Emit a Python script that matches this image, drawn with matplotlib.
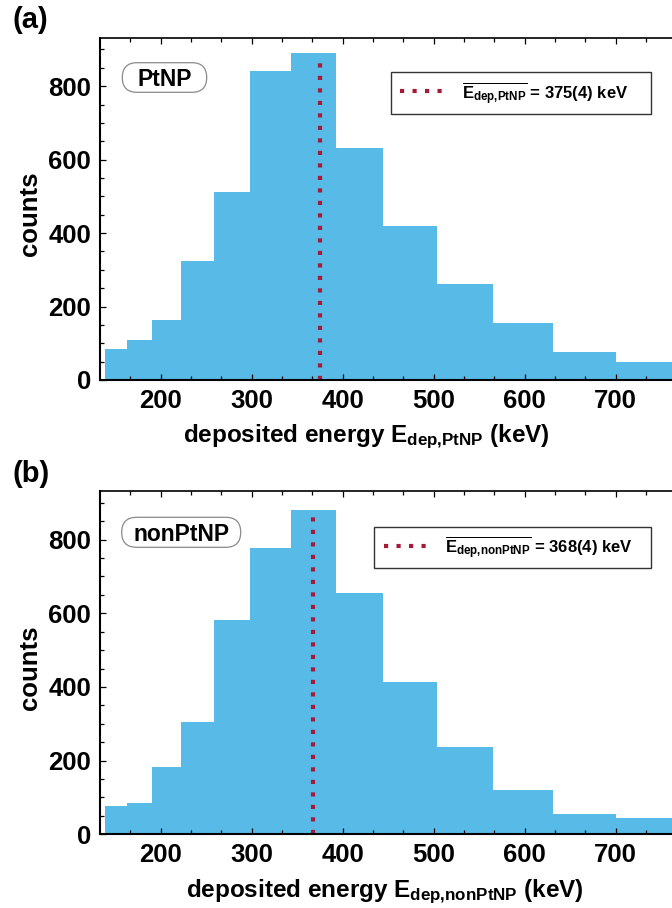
import numpy as np
import matplotlib
matplotlib.use("Agg")
import matplotlib.pyplot as plt
from matplotlib.ticker import MultipleLocator
from matplotlib.patches import Rectangle, FancyBboxPatch
from matplotlib.lines import Line2D
from matplotlib.transforms import IdentityTransform

# --- values ---
edges = [139, 163, 191, 222, 259, 298, 343, 393, 445, 504, 565, 631, 701, 776]
counts_pt = [85, 109, 164, 323, 513, 840, 889, 632, 420, 262, 155, 76, 49]
counts_nonpt = [76, 85, 182, 306, 583, 778, 880, 654, 414, 238, 120, 55, 44]
mean_pt = 375
mean_nonpt = 368
xticks = [200, 300, 400, 500, 600, 700]
yticks = [0, 200, 400, 600, 800]

bar_color = "#58bbe7"
mean_color = "#a51b36"

plt.rcParams["font.family"] = ["Liberation Sans", "DejaVu Sans"]
plt.rcParams["font.weight"] = "bold"
plt.rcParams["mathtext.fontset"] = "custom"
for k in ("rm", "it", "bf", "sf"):
    plt.rcParams["mathtext." + k] = "Liberation Sans:bold"

W, H = 672, 908
fig = plt.figure(figsize=(W / 100, H / 100), dpi=100)


def px_axes(left, top, right, bottom):
    return fig.add_axes([left / W, 1 - bottom / H, (right - left) / W, (bottom - top) / H])


def pill(ax, text, x0, x1, y0, y1):
    # rounded tag box, given in image pixels (top-left origin)
    h = y1 - y0
    ax.add_patch(FancyBboxPatch((x0, H - y1), x1 - x0, h,
                                boxstyle="round,pad=0,rounding_size=%.1f" % (h / 2),
                                transform=IdentityTransform(), fc="white",
                                ec="#8a8a8a", lw=0.9, zorder=3))
    ax.text((x0 + x1) / 2, H - (y0 + y1) / 2, text, transform=IdentityTransform(),
            fontsize=16.5, fontweight="bold", ha="center", va="center_baseline",
            zorder=4)


def panel(ax, counts, mean, mean_top, sub, mean_lbl, xlab_x, leg):
    widths = np.diff(edges)
    ax.bar(edges[:-1], counts, width=widths, align="edge", color=bar_color,
           linewidth=0, zorder=1)
    ax.plot([mean, mean], [0, mean_top], color=mean_color, lw=3.0,
            ls=(0, (1, 2.0)), dash_capstyle="butt", zorder=2)

    ax.set_xlim(133.5, 762)
    ax.set_ylim(0, 932)
    ax.set_xticks(xticks)
    ax.set_yticks(yticks)
    ax.xaxis.set_minor_locator(MultipleLocator(100 / 3))
    ax.yaxis.set_minor_locator(MultipleLocator(50))
    ax.tick_params(which="both", direction="in", top=True, right=False,
                   labelsize=18.5, width=0.9, pad=6.5)
    ax.tick_params(which="major", length=4.5)
    ax.tick_params(which="minor", length=2.6)
    ax.spines["right"].set_visible(False)
    ax.spines["left"].set_linewidth(1.5)
    ax.spines["bottom"].set_linewidth(1.5)
    ax.spines["top"].set_linewidth(1.2)

    ax.set_ylabel("counts", fontsize=18.5, fontweight="bold")
    ax.yaxis.set_label_coords(-0.102, 0.485)
    ax.set_xlabel("deposited energy $E_{dep{,}%s}$ (keV)" % sub,
                  fontsize=17.5, fontweight="bold")
    ax.xaxis.set_label_coords(xlab_x, -0.125)

    # legend box
    x0, y0, w, h, lx0, lx1, ly, tx, ty = leg
    ax.add_patch(Rectangle((x0, y0), w, h, transform=ax.transAxes, fc="white",
                           ec="#333333", lw=1.0, zorder=3))
    ax.add_line(Line2D([lx0, lx1], [ly, ly], transform=ax.transAxes,
                       color=mean_color, lw=3.0, ls=(0, (1, 2.0)),
                       dash_capstyle="butt", zorder=4))
    ax.text(tx, ty, r"$\overline{E_{dep{,}%s}}$ = %s" % (sub, mean_lbl),
            transform=ax.transAxes, fontsize=12, fontweight="bold",
            ha="left", va="baseline", zorder=4)


ax_a = px_axes(100, 37.7, 672, 380)
panel(ax_a, counts_pt, mean_pt, 875, "PtNP", "375(4) keV", 0.466,
      (0.5082, 0.7771, 0.4545, 0.1236, 0.5245, 0.6002, 0.8443, 0.6324, 0.8200))
pill(ax_a, "PtNP", 122.3, 206.7, 62.7, 92.3)

ax_b = px_axes(100, 491, 672, 834.3)
panel(ax_b, counts_nonpt, mean_nonpt, 865, "nonPtNP", "368(4) keV", 0.498,
      (0.479, 0.7748, 0.4843, 0.1212, 0.4965, 0.5717, 0.8407, 0.6031, 0.8185))
pill(ax_b, "nonPtNP", 121.7, 240.7, 517.3, 547.3)

fig.text(13 / W, 1 - 6 / H, "(a)", fontsize=21, fontweight="bold", va="top")
fig.text(12 / W, 1 - 460 / H, "(b)", fontsize=21, fontweight="bold", va="top")

fig.savefig("out.png", dpi=100)
